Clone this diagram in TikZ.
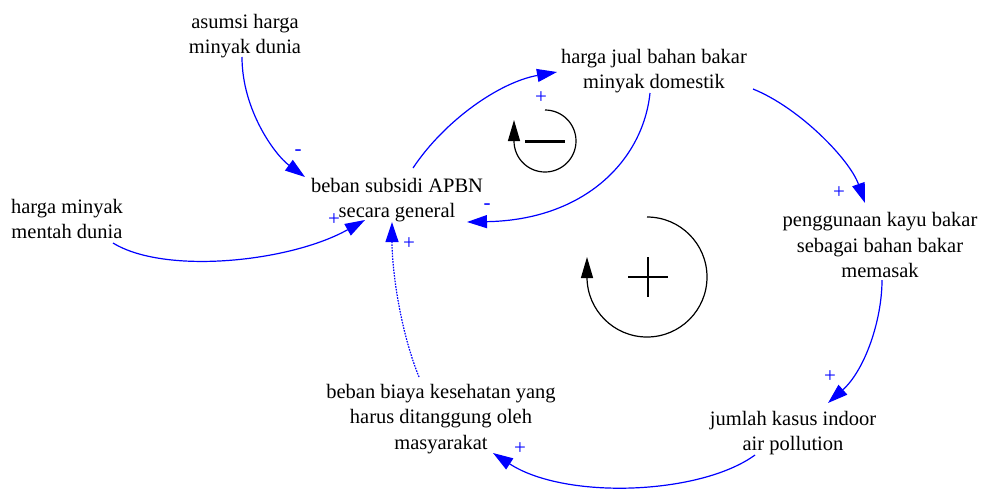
\documentclass[tikz,border=0pt]{standalone}
\usepackage{fontspec}
\setmainfont{Liberation Serif}
\usetikzlibrary{arrows.meta,calc}
\begin{document}
\begin{tikzpicture}[x=1pt,y=-1pt,
  var/.style={align=center,inner sep=0pt,font=\fontsize{20.5}{25.5}\selectfont},
  link/.style={blue,line width=1.2pt,-{Triangle[length=20pt,width=13pt]}},
  dotlink/.style={link,dash pattern=on 1.6pt off 1.2pt},
  pol/.style={blue,inner sep=0pt,font=\fontsize{21}{21}\selectfont},
  loopline/.style={black,line width=1.2pt,-{Triangle[length=21pt,width=12pt]}},
]
\useasboundingbox (0,0) rectangle (981,488);

% variables
\node[var] (asumsi)  at (245,36)  {asumsi harga\\minyak dunia};
\node[var] (mentah)  at (67,219)  {harga minyak\\mentah dunia};
\node[var] (subsidi) at (397,200) {beban subsidi APBN\\secara general};
\node[var] (jual)    at (654,71)  {harga jual bahan bakar\\minyak domestik};
\node[var] (kayu)    at (880,245) {penggunaan kayu bakar\\sebagai bahan bakar\\memasak};
\node[var] (kasus)   at (793,433) {jumlah kasus indoor\\air pollution};
\node[var] (biaya)   at (441,419) {beban biaya kesehatan yang\\harus ditanggung oleh\\masyarakat};

% links
\draw[link] ($(asumsi.center)+(-3,21)$) .. controls +(0,53) and +(-30,-22) .. ($(subsidi.center)+(-92,-23)$);
\draw[link] ($(mentah.center)+(46,24)$) .. controls +(52,32) and +(-75,42) .. ($(subsidi.center)+(-32,20)$);
\draw[link] ($(subsidi.center)+(16,-32)$) .. controls +(32,-48) and +(-57,10) .. ($(jual.center)+(-97,1)$);
\draw[link] ($(jual.center)+(-4,22)$) .. controls +(-7,67) and +(118,-2) .. ($(subsidi.center)+(70,22)$);
\draw[link] ($(jual.center)+(99,18)$) .. controls +(47,19) and +(-15,-43) .. ($(kayu.center)+(-15,-42)$);
\draw[link] ($(kayu.center)+(2,35)$) .. controls +(0,40) and +(37,-33) .. ($(kasus.center)+(35,-30)$);
\draw[link] ($(kasus.center)+(-38,22)$) .. controls +(-55,40) and +(72,47) .. ($(biaya.center)+(52,34)$);
\draw[dotlink] ($(biaya.center)+(-22,-42)$) .. controls +(-19,-47) and +(0,48) .. ($(subsidi.center)+(-5,22)$);

% polarities
\node[pol] (p1) at (298,153) {-};
\node[pol] (p2) at (334,220) {+};
\node[pol] (p3) at (541,98)  {+};
\node[pol] (p4) at (487,207) {-};
\node[pol] (p5) at (839,193) {+};
\node[pol] (p6) at (830,377) {+};
\node[pol] (p7) at (520,449) {+};
\node[pol] (p8) at (409,244) {+};

% loop identifiers
\draw[loopline] (545,110) arc[start angle=-90,end angle=180,radius=31] -- ++(0,-21);
\draw[line width=3pt] (525,141) -- (565,141);
\draw[loopline] (647,217) arc[start angle=-90,end angle=180,radius=60] -- ++(0,-20);
\draw[line width=2.5pt] (628,277) -- (668,277) (648,257) -- (648,297);
\end{tikzpicture}
\end{document}
